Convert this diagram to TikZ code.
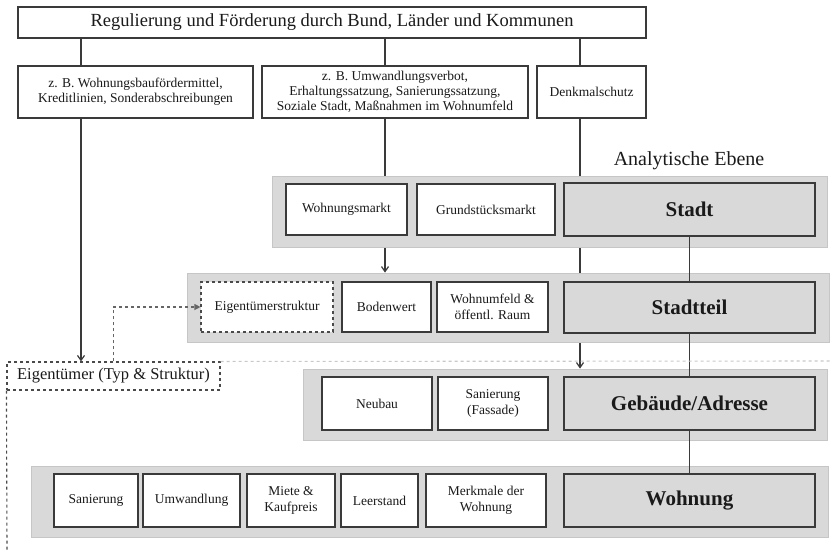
\documentclass[tikz,border=0pt]{standalone}
\usepackage{fontspec}
\setmainfont{Liberation Serif}
\usetikzlibrary{positioning,backgrounds,arrows.meta}
\definecolor{ebgrey}{HTML}{D9D9D9}
\definecolor{ebframe}{HTML}{C6C6C6}
\definecolor{ebline}{HTML}{3A3A3A}
\definecolor{ebdash}{HTML}{4A4A4A}
\definecolor{ebsep}{HTML}{C8C8C8}
\definecolor{ebtext}{HTML}{1A1A1A}

\begin{document}
\begin{tikzpicture}[x=1pt, y=-1pt,
  wbox/.style={draw=ebline, fill=white, line width=1.1pt, align=center, inner sep=2pt, text=ebtext},
  head/.style={wbox, font=\fontsize{13.5}{15}\selectfont, minimum height=52pt},
  item/.style={wbox, font=\fontsize{13.5}{15.5}\selectfont, minimum height=51pt},
  level/.style={draw=ebline, fill=ebgrey, line width=1.3pt, minimum width=251pt, minimum height=53pt, font=\fontsize{21}{24}\selectfont\bfseries, text=ebtext},
  panel/.style={draw=ebframe, fill=ebgrey, line width=0.8pt, inner sep=0pt},
  link/.style={draw=ebline, line width=1.2pt},
  arr/.style={link, -{Straight Barb[length=5pt, width=7pt]}},
  owner/.style={dashed, draw=ebdash, line width=1.1pt}
]
\useasboundingbox (0,0) rectangle (830,550);
% ---------- Regulierung ----------
\node[wbox, minimum width=628pt, minimum height=31pt, font=\fontsize{18.5}{20}\selectfont] (reg) at (332,22.5) {Regulierung und Förderung durch Bund, Länder und Kommunen};
\node[head, minimum width=235pt] (foerd) at (135.5,92) {z. B. Wohnungsbaufördermittel,\\ Kreditlinien, Sonderabschreibungen};
\node[head, minimum width=266pt] (umw) at (395,92) {z. B. Umwandlungsverbot,\\ Erhaltungssatzung, Sanierungssatzung,\\ Soziale Stadt, Maßnahmen im Wohnumfeld};
\node[head, minimum width=109pt] (denk) at (591.5,92) {Denkmalschutz};
\coordinate (cx1) at (81,0);
\coordinate (cx2) at (385,0);
\coordinate (cx3) at (580,0);
\draw[link] (reg.south -| cx1) -- (foerd.north -| cx1);
\draw[link] (reg.south -| cx2) -- (umw.north -| cx2);
\draw[link] (reg.south -| cx3) -- (denk.north -| cx3);
\node[font=\fontsize{20}{24}\selectfont, text=ebtext] (ebene) at (689,161) {Analytische Ebene};
% ---------- Ebenen (Hintergrund) ----------
\node[panel, minimum width=555pt, minimum height=71pt] (pstadt) at (549.5,211.5) {};
\node[panel, minimum width=642pt, minimum height=69pt] (pteil) at (508,307.5) {};
\node[panel, minimum width=524pt, minimum height=71pt] (pgeb) at (565,404.5) {};
\node[panel, minimum width=797pt, minimum height=71pt] (pwohn) at (429.5,501.5) {};
\node[level] (stadt) at (689.5,209.5) {Stadt};
\node[level, minimum height=51pt] (teil) at (689.5,307.5) {Stadtteil};
\node[level] (geb) at (689.5,403.5) {Gebäude/Adresse};
\node[level] (wohn) at (689.5,500.5) {Wohnung};
\draw[link] (stadt) -- (teil);
\draw[link] (teil) -- (geb);
\draw[link] (geb) -- (wohn);
% ---------- Merkmale je Ebene ----------
\foreach \xa/\xb/\t [count=\i] in {286/407/Wohnungsmarkt, 417/555/Grundstücksmarkt}
  \node[item, minimum width=(\xb-\xa)*1pt] (ms\i) at ({(\xa+\xb)/2},209.5) {\t};
\node[item, minimum width=132pt, minimum height=50pt, dashed, draw=ebdash] (estr) at (267,307) {Eigentümerstruktur};
\foreach \xa/\xb/\t [count=\i] in {342/431/Bodenwert, 437/548/{Wohnumfeld \&\\ öffentl. Raum}}
  \node[item, minimum width=(\xb-\xa)*1pt, minimum height=50pt] (mt\i) at ({(\xa+\xb)/2},307) {\t};
\foreach \xa/\xb/\t [count=\i] in {322/432/Neubau, 438/548/{Sanierung\\ (Fassade)}}
  \node[item, minimum width=(\xb-\xa)*1pt, minimum height=53pt] (mg\i) at ({(\xa+\xb)/2},403.5) {\t};
\foreach \xa/\xb/\t [count=\i] in {54/138/Sanierung, 143/240/Umwandlung, 247/335/{Miete \&\\ Kaufpreis}, 341/418/Leerstand, 426/546/{Merkmale der\\ Wohnung}}
  \node[item, minimum width=(\xb-\xa)*1pt, minimum height=53pt] (mw\i) at ({(\xa+\xb)/2},500.5) {\t};
% ---------- Eigentümer ----------
\node[draw=ebdash, dashed, line width=1.1pt, minimum width=213pt, minimum height=28pt, inner sep=1pt, font=\fontsize{16.5}{18}\selectfont, text=ebtext] (eig) at (113.5,376) {Eigentümer (Typ \& Struktur)};
\coordinate (sepend) at (830,361);
\coordinate (vend) at (7,550);
\draw[dashed, draw=ebsep, line width=1.1pt] (eig.north east) -- (sepend);
\draw[owner] (eig.south west) -- (vend);
\draw[owner, draw=ebdash!85, -{Triangle[length=6pt, width=6pt]}] (eig.north) |- (estr.west);
\draw[arr] (foerd.south -| cx1) -- (eig.north -| cx1);
% durchgehende Pfeile hinter den Ebenen
\begin{scope}[on background layer]
\draw[arr] (umw.south -| cx2) -- (pteil.north -| cx2);
\draw[arr] (denk.south -| cx3) -- (pgeb.north -| cx3);
\end{scope}
\end{tikzpicture}
\end{document}
